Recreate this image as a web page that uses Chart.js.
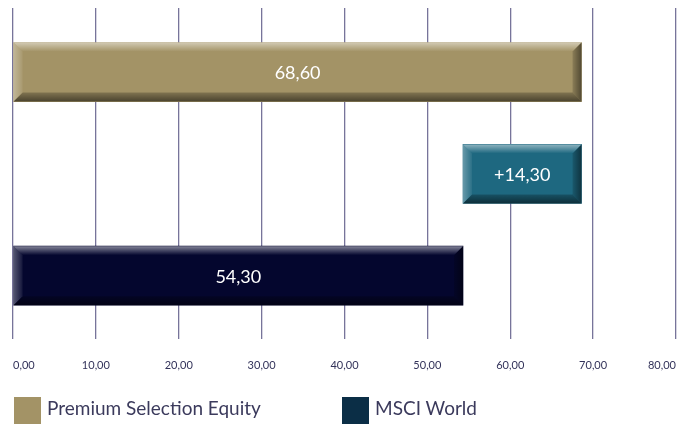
<!DOCTYPE html>
<html>
<head>
<meta charset="utf-8">
<script src="https://cdn.jsdelivr.net/npm/chart.js@4"></script>
<style>
  html, body { margin: 0; padding: 0; background: #ffffff; }
  #wrap { position: relative; width: 692px; height: 424px; overflow: hidden; }
  #c { position: absolute; left: 0; top: 0; }
  .lg-box { position: absolute; width: 27px; height: 27px; }
  .lg-txt { position: absolute; font-family: Lato, "Open Sans", sans-serif; font-size: 19px; color: #3b3a5c; line-height: 27px; white-space: nowrap; }
</style>
</head>
<body>
<div id="wrap">
  <canvas id="c" width="692" height="424"></canvas>
</div>
<script>
// ---- data ----
const categories   = ['Premium Selection Equity', 'Differenz', 'MSCI World'];
const barStarts    = [0, 54.30, 0];
const barEnds      = [68.60, 68.60, 54.30];
const labelPrefix  = ['', '+', ''];
const barColors    = ['#A39366', '#1E6880', '#04062E'];
const xTickValues  = [0, 10, 20, 30, 40, 50, 60, 70, 80];
const legendNames  = ['Premium Selection Equity', 'MSCI World'];
const legendColors = ['#A39366', '#0B2E46'];

const fmt = v => v.toFixed(2).replace('.', ',');

// ---- legend (HTML text) ----
const wrap = document.getElementById('wrap');
const legendBoxX = [14, 342];
legendNames.forEach((name, i) => {
  const b = document.createElement('div');
  b.className = 'lg-box';
  b.style.left = legendBoxX[i] + 'px';
  b.style.top = '397px';
  b.style.background = legendColors[i];
  wrap.appendChild(b);
  const t = document.createElement('div');
  t.className = 'lg-txt';
  t.style.left = (legendBoxX[i] + 33) + 'px';
  t.style.top = '394px';
  t.textContent = name;
  wrap.appendChild(t);
});

// ---- bevel + value label plugin ----
const bevelPlugin = {
  id: 'bevel',
  afterDatasetsDraw(chart) {
    const ctx = chart.ctx;
    const meta = chart.getDatasetMeta(0);
    meta.data.forEach((el, i) => {
      const p = el.getProps(['x', 'y', 'base', 'height'], true);
      const l = Math.min(p.x, p.base), r = Math.max(p.x, p.base);
      const t = p.y - p.height / 2, bt = p.y + p.height / 2;
      const b = 9;
      ctx.save();
      let g = ctx.createLinearGradient(0, t, 0, t + b);
      g.addColorStop(0, 'rgba(255,255,255,0.5)');
      g.addColorStop(1, 'rgba(255,255,255,0.0)');
      ctx.fillStyle = g;
      ctx.beginPath(); ctx.moveTo(l, t); ctx.lineTo(r, t); ctx.lineTo(r - b, t + b); ctx.lineTo(l + b, t + b); ctx.closePath(); ctx.fill();
      g = ctx.createLinearGradient(l, 0, l + b, 0);
      g.addColorStop(0, 'rgba(255,255,255,0.32)');
      g.addColorStop(1, 'rgba(255,255,255,0.06)');
      ctx.fillStyle = g;
      ctx.beginPath(); ctx.moveTo(l, t); ctx.lineTo(l + b, t + b); ctx.lineTo(l + b, bt - b); ctx.lineTo(l, bt); ctx.closePath(); ctx.fill();
      g = ctx.createLinearGradient(0, bt - b, 0, bt);
      g.addColorStop(0, 'rgba(0,0,0,0.22)');
      g.addColorStop(1, 'rgba(0,0,0,0.55)');
      ctx.fillStyle = g;
      ctx.beginPath(); ctx.moveTo(l, bt); ctx.lineTo(l + b, bt - b); ctx.lineTo(r - b, bt - b); ctx.lineTo(r, bt); ctx.closePath(); ctx.fill();
      g = ctx.createLinearGradient(r - b, 0, r, 0);
      g.addColorStop(0, 'rgba(0,0,0,0.15)');
      g.addColorStop(1, 'rgba(0,0,0,0.5)');
      ctx.fillStyle = g;
      ctx.beginPath(); ctx.moveTo(r, t); ctx.lineTo(r - b, t + b); ctx.lineTo(r - b, bt - b); ctx.lineTo(r, bt); ctx.closePath(); ctx.fill();
      ctx.fillStyle = '#ffffff';
      ctx.font = '18px Lato, "Open Sans", sans-serif';
      ctx.textAlign = 'center';
      ctx.textBaseline = 'middle';
      ctx.fillText(labelPrefix[i] + fmt(barEnds[i] - barStarts[i]), (l + r) / 2, p.y + 1);
      ctx.restore();
    });
  }
};

new Chart(document.getElementById('c'), {
  type: 'bar',
  data: {
    labels: categories,
    datasets: [{
      label: 'values',
      data: categories.map((c, i) => ({ x: [barStarts[i], barEnds[i]], y: i + 1 })),
      backgroundColor: barColors,
      borderWidth: 0,
      barThickness: 59
    }]
  },
  options: {
    indexAxis: 'y',
    responsive: false,
    animation: false,
    devicePixelRatio: 1,
    layout: { padding: { left: 13, right: 16, top: 8, bottom: 52 } },
    plugins: { legend: { display: false }, tooltip: { enabled: false } },
    scales: {
      y: { type: 'linear', reverse: true, offset: false, min: 0.37, max: 3.62, display: false },
      x: {
        type: 'linear', min: 0, max: 80,
        afterBuildTicks: axis => { axis.ticks = xTickValues.map(v => ({ value: v })); },
        border: { display: false },
        grid: { color: '#77749a', lineWidth: 1.3, drawTicks: true, tickLength: 20, tickColor: 'rgba(0,0,0,0)' },
        ticks: {
          padding: 0, align: 'inner', maxRotation: 0, autoSkip: false,
          color: '#33335a',
          font: { family: 'Lato, "Open Sans", sans-serif', size: 11 },
          callback: v => fmt(v)
        }
      }
    }
  },
  plugins: [bevelPlugin]
});
</script>
</body>
</html>
